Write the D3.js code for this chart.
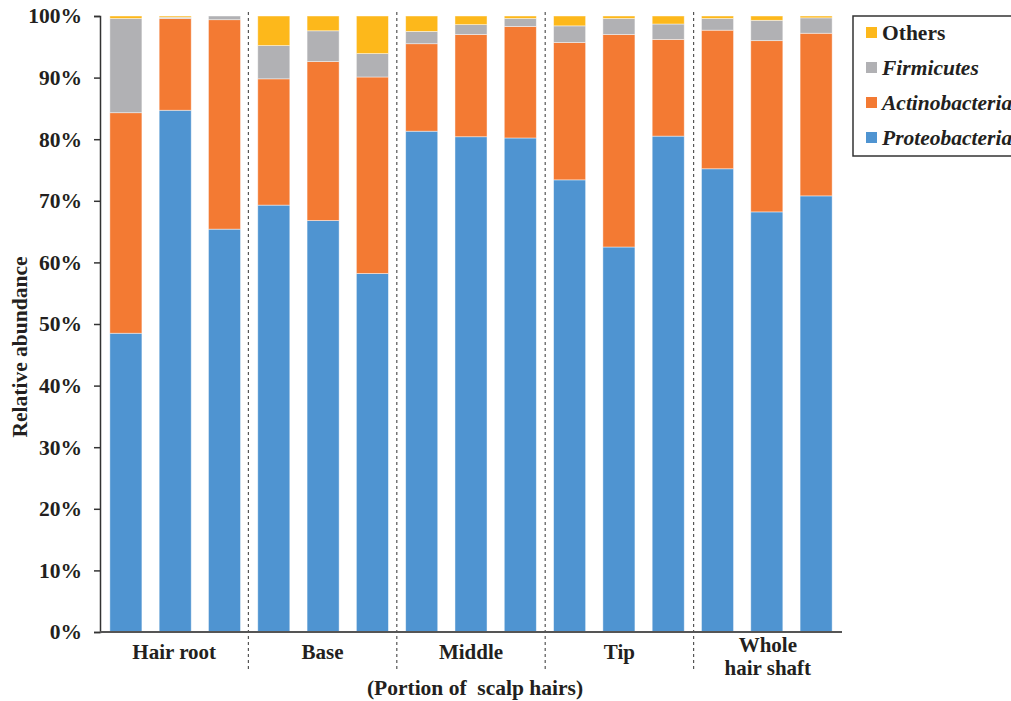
<!DOCTYPE html>
<html>
<head>
<meta charset="utf-8">
<script src="https://cdn.jsdelivr.net/npm/d3@7"></script>
<style>
  body { margin: 0; background: #fff; }
  svg text { font-family: "Times New Roman", "Liberation Serif", Times, serif; }
</style>
</head>
<body>
<div id="chart"></div>
<script>
var groups = ["Hair root", "Base", "Middle", "Tip", "Whole hair shaft"];
var samples = ["HR1", "HR2", "HR3", "B1", "B2", "B3", "M1", "M2", "M3", "T1", "T2", "T3", "W1", "W2", "W3"];
var proteobacteria = [48.5, 84.7, 65.4, 69.3, 66.8, 58.2, 81.3, 80.4, 80.2, 73.4, 62.5, 80.5, 75.2, 68.2, 70.8];
var actinobacteria = [35.8, 14.9, 34.0, 20.5, 25.8, 31.9, 14.2, 16.6, 18.1, 22.3, 34.5, 15.7, 22.5, 27.8, 26.4];
var firmicutes = [15.3, 0.2, 0.6, 5.4, 5.0, 3.8, 2.0, 1.6, 1.3, 2.7, 2.6, 2.5, 1.9, 3.3, 2.5];
var others = [0.4, 0.2, 0.0, 4.8, 2.4, 6.1, 2.5, 1.4, 0.4, 1.6, 0.4, 1.3, 0.4, 0.7, 0.3];
var yTicks = [0, 10, 20, 30, 40, 50, 60, 70, 80, 90, 100];

var seriesNames = ["Proteobacteria", "Actinobacteria", "Firmicutes", "Others"];
var colors = { Proteobacteria: "#4f94d1", Actinobacteria: "#f37a33", Firmicutes: "#b1b1b4", Others: "#fdb81b" };

var width = 1011,
  height = 701;
var margin = { top: 16, right: 169, bottom: 69, left: 100 };
var graphWidth = width - margin.left - margin.right,
  graphHeight = height - margin.top - margin.bottom;

var table = samples.map(function (s, i) {
  return {
    sample: s,
    Proteobacteria: proteobacteria[i],
    Actinobacteria: actinobacteria[i],
    Firmicutes: firmicutes[i],
    Others: others[i]
  };
});
var stacked = d3.stack().keys(seriesNames)(table);

var svg = d3.select("#chart").append("svg").attr("width", width).attr("height", height);
var graph = svg.append("g").attr("transform", "translate(" + margin.left + "," + margin.top + ")");

var x = d3.scaleBand().domain(samples).range([0, graphWidth]).paddingInner(0.35).paddingOuter(0.2);
var xGroup = d3.scaleBand().domain(groups).range([0, graphWidth]);
var y = d3.scaleLinear().domain([0, 100]).range([graphHeight, 0]);

graph
  .selectAll("g.series")
  .data(stacked)
  .enter()
  .append("g")
  .attr("class", "series")
  .attr("fill", function (d) {
    return colors[d.key];
  })
  .selectAll("rect")
  .data(function (d) {
    return d;
  })
  .enter()
  .append("rect")
  .attr("x", function (d) {
    return x(d.data.sample);
  })
  .attr("width", x.bandwidth())
  .attr("y", function (d) {
    return y(d[1]);
  })
  .attr("height", function (d) {
    return y(d[0]) - y(d[1]);
  })
  .attr("stroke", "#ffffff")
  .attr("stroke-opacity", 0.55)
  .attr("stroke-width", 0.8);

// dashed separators between groups
graph
  .selectAll("line.sep")
  .data(groups.slice(1))
  .enter()
  .append("line")
  .attr("class", "sep")
  .attr("x1", function (d) {
    return xGroup(d);
  })
  .attr("x2", function (d) {
    return xGroup(d);
  })
  .attr("y1", -4)
  .attr("y2", graphHeight + 40)
  .attr("stroke", "#555")
  .attr("stroke-width", 1.2)
  .attr("stroke-dasharray", "3,3");

var yAxis = d3
  .axisLeft(y)
  .tickValues(yTicks)
  .tickSize(6)
  .tickPadding(12)
  .tickFormat(function (d) {
    return d + "%";
  });
var gYAxis = graph.append("g").call(yAxis);
gYAxis.attr("font-family", null).attr("font-size", null);
gYAxis.select(".domain").attr("stroke", "#333").attr("stroke-width", 1.5);
gYAxis.selectAll(".tick line").attr("stroke", "#333").attr("stroke-width", 1.5);
gYAxis
  .selectAll(".tick text")
  .attr("fill", "#231f20")
  .style("font-size", "21.5px")
  .style("font-weight", "bold");

// x axis baseline
graph
  .append("line")
  .attr("x1", 0)
  .attr("x2", graphWidth)
  .attr("y1", graphHeight)
  .attr("y2", graphHeight)
  .attr("stroke", "#555")
  .attr("stroke-width", 2);

// group labels
var labels = graph
  .selectAll("text.group")
  .data(groups)
  .enter()
  .append("text")
  .attr("class", "group")
  .attr("text-anchor", "middle")
  .attr("fill", "#231f20")
  .style("font-size", "21px")
  .style("font-weight", "bold")
  .attr("transform", function (d) {
    return "translate(" + (xGroup(d) + xGroup.bandwidth() / 2) + "," + (graphHeight + 27) + ")";
  });
labels.each(function (d) {
  var t = d3.select(this);
  if (d === "Whole hair shaft") {
    t.append("tspan").attr("x", 0).attr("y", -7).text("Whole");
    t.append("tspan").attr("x", 0).attr("y", 16).text("hair shaft");
  } else {
    t.text(d);
  }
});

svg
  .append("text")
  .attr("x", 475)
  .attr("y", 695)
  .attr("text-anchor", "middle")
  .attr("fill", "#231f20")
  .style("font-size", "21.5px")
  .style("font-weight", "bold")
  .style("white-space", "pre")
  .text("(Portion of  scalp hairs)");

svg
  .append("text")
  .attr("transform", "translate(27,347) rotate(-90)")
  .attr("text-anchor", "middle")
  .attr("fill", "#231f20")
  .style("font-size", "21.5px")
  .style("font-weight", "bold")
  .text("Relative abundance");

// legend
var legend = svg.append("g").attr("transform", "translate(853,16)");
legend
  .append("rect")
  .attr("width", 200)
  .attr("height", 140)
  .attr("fill", "#fff")
  .attr("stroke", "#333")
  .attr("stroke-width", 1.5);
var items = legend
  .selectAll("g.item")
  .data(seriesNames.slice().reverse())
  .enter()
  .append("g")
  .attr("class", "item")
  .attr("transform", function (d, i) {
    return "translate(13," + (24 + i * 35) + ")";
  });
items
  .append("rect")
  .attr("y", -13)
  .attr("width", 11)
  .attr("height", 11)
  .attr("fill", function (d) {
    return colors[d];
  });
items
  .append("text")
  .attr("x", 16)
  .attr("fill", "#231f20")
  .style("font-size", "21.5px")
  .style("font-weight", "bold")
  .style("font-style", function (d) {
    return d === "Others" ? "normal" : "italic";
  })
  .text(function (d) {
    return d;
  });
</script>
</body>
</html>
